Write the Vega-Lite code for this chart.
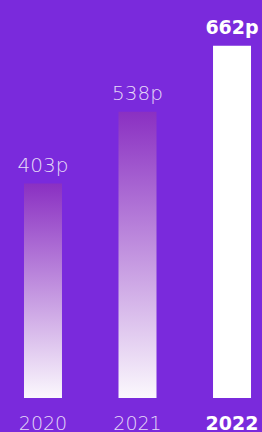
{
  "$schema": "https://vega.github.io/schema/vega-lite/v6.json",
  "width": 262,
  "height": 398,
  "autosize": {"type": "none"},
  "padding": {"left": 0, "right": 0, "top": 0, "bottom": 34},
  "background": "#7A2ADC",
  "config": {"view": {"stroke": null}},
  "data": {
    "values": [
      {"year": "2020", "value": 403, "label": "403p"},
      {"year": "2021", "value": 538, "label": "538p"},
      {"year": "2022", "value": 662, "label": "662p"}
    ]
  },
  "encoding": {
    "x": {
      "field": "year",
      "type": "ordinal",
      "scale": {"paddingInner": 0.598, "paddingOuter": 0.185, "align": 0.686},
      "axis": {
        "title": null,
        "domain": false,
        "ticks": false,
        "grid": false,
        "labelAngle": 0,
        "labelFont": "DejaVu Sans",
        "labelFontSize": 19,
        "labelBaseline": "alphabetic",
        "labelPadding": 31,
        "labelColor": {"condition": {"test": "datum.value === '2022'", "value": "#FFFFFF"}, "value": "#E6DBF8"},
        "labelFontWeight": {"condition": {"test": "datum.value === '2022'", "value": "bold"}, "value": 200}
      }
    },
    "y": {
      "field": "value",
      "type": "quantitative",
      "scale": {"domain": [0, 748]},
      "axis": null
    }
  },
  "layer": [
    {
      "mark": {"type": "bar"},
      "encoding": {
        "color": {
          "condition": {"test": "datum.year === '2022'", "value": "#FFFFFF"},
          "value": {
            "gradient": "linear",
            "x1": 0, "y1": 0, "x2": 0, "y2": 1,
            "stops": [
              {"offset": 0, "color": "#8A30C2"},
              {"offset": 1, "color": "#FBF8FD"}
            ]
          }
        }
      }
    },
    {
      "transform": [{"filter": "datum.year !== '2022'"}],
      "mark": {"type": "text", "dy": -12, "baseline": "alphabetic", "align": "center", "font": "DejaVu Sans", "fontSize": 20, "fontWeight": 200, "color": "#E6DBF8"},
      "encoding": {"text": {"field": "label"}}
    },
    {
      "transform": [{"filter": "datum.year === '2022'"}],
      "mark": {"type": "text", "dy": -12, "baseline": "alphabetic", "align": "center", "font": "DejaVu Sans", "fontSize": 19, "fontWeight": "bold", "color": "#FFFFFF"},
      "encoding": {"text": {"field": "label"}}
    }
  ]
}
